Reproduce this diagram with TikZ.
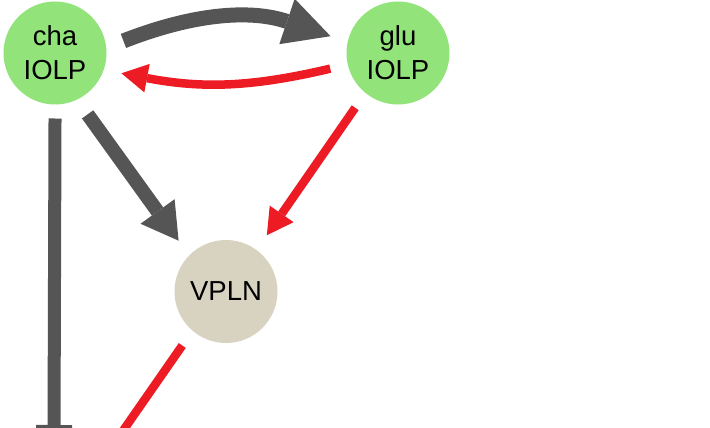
\documentclass[tikz,border=0pt]{standalone}
\usepackage{fontspec}
\setmainfont{Liberation Sans}
\usepackage{tikz}
\usetikzlibrary{arrows.meta}
\usepackage{xcolor}
\definecolor{iolpgreen}{RGB}{145,227,122}
\definecolor{vplnbeige}{RGB}{215,211,192}
\definecolor{actgray}{RGB}{85,85,85}
\definecolor{inhred}{RGB}{237,28,36}

\begin{document}
\begin{tikzpicture}[x=1pt,y=1pt,
        cell/.style={circle,minimum size=103pt,inner sep=0pt,outer sep=18pt,align=center,font=\fontsize{27.5}{34}\selectfont},
        act/.style={actgray,line width=14pt,-{Triangle[width=42pt,length=36pt,line width=0pt]}},
        inh/.style={inhred,line width=8.5pt,-{Triangle[width=29pt,length=26pt,line width=0pt]}}]
        \clip (0,0) rectangle (710,-428);
        \node[cell,fill=iolpgreen] (cha) at (55,-53) {cha\\IOLP};
        \node[cell,fill=iolpgreen] (glu) at (398,-53) {glu\\IOLP};
        \node[cell,fill=vplnbeige] (vpln) at (226,-291.5) {VPLN};
        \coordinate (chaout) at (54,-434);
        \coordinate (vplnout) at (111,-448);
        \draw[act,line width=15pt,-{Triangle[width=48pt,length=46pt,line width=0pt]}] (cha.10) to[bend left=20] (glu.166);
        \draw[inh] (glu.-167) to[bend left=12] (cha.-17);
        \draw[act] (cha.-62) -- (vpln.133);
        \draw[inh] (glu.232) -- (vpln.54);
        \draw[actgray,line width=13pt,shorten <=-4pt,-{Rectangle[width=36pt,length=9pt,line width=0pt]}] (cha.south) -- (chaout);
        \draw[inhred,line width=8.5pt] (vpln.231) -- (vplnout);
    \end{tikzpicture}
\end{document}
